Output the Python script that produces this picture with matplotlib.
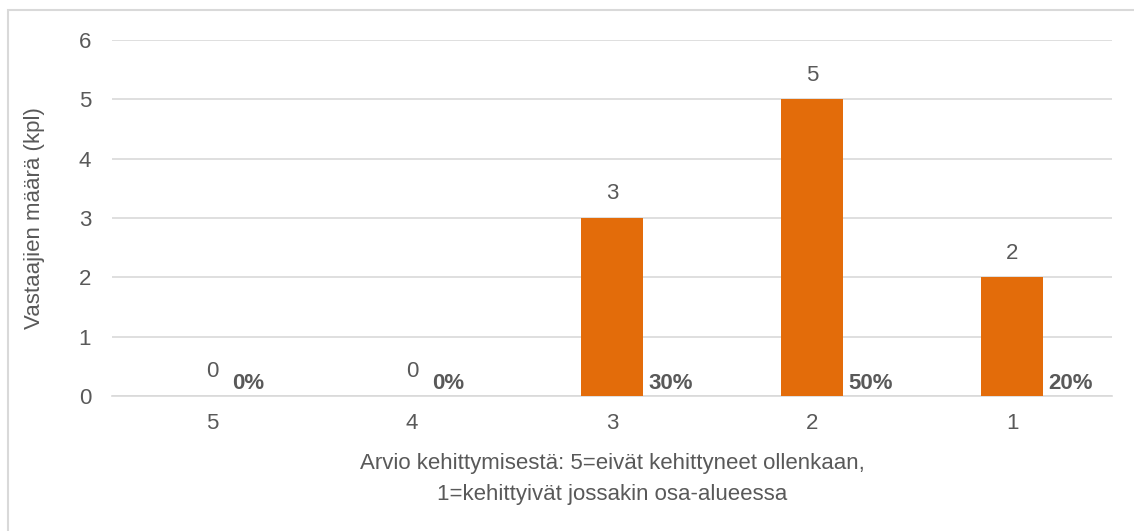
import matplotlib.pyplot as plt
import matplotlib.patches as mpatches
from matplotlib import font_manager

# data
categories = ['5', '4', '3', '2', '1']
counts = [0, 0, 3, 5, 2]
shares = ['0%', '0%', '30%', '50%', '20%']

# narrow font if available
names = {f.name for f in font_manager.fontManager.ttflist}
family = 'Liberation Sans Narrow' if 'Liberation Sans Narrow' in names else 'Liberation Sans'
plt.rcParams['font.family'] = [family, 'DejaVu Sans']

text_col = '#595959'
grid_col = '#d9d9d9'
bar_col = '#e36c0a'
fs = 16

W, H = 1134, 531
fig = plt.figure(figsize=(W / 100, H / 100), dpi=100)
fig.patch.set_facecolor('white')

# light frame around the chart (right and bottom edges fall outside)
fig.patches.append(mpatches.Rectangle((8 / W, -0.05), 1.2, 1 - 10 / H + 0.05,
                                      transform=fig.transFigure, fill=False,
                                      edgecolor=grid_col, linewidth=1.5))

ax = fig.add_axes([112 / W, 1 - 396 / H, 1000 / W, 356 / H])
x = list(range(len(categories)))
ax.bar(x, counts, width=0.31, color=bar_col, zorder=3)

ax.set_xlim(-0.5, len(categories) - 0.5)
ax.set_ylim(0, 6)
ax.set_yticks(range(0, 7))
ax.set_xticks(x)
ax.set_xticklabels(categories)
ax.grid(axis='y', color=grid_col, linewidth=1.2, zorder=0)
ax.set_axisbelow(True)
for s in ['top', 'right', 'left']:
    ax.spines[s].set_visible(False)
ax.spines['bottom'].set_color(grid_col)
ax.spines['bottom'].set_linewidth(1.2)
ax.tick_params(axis='both', length=0, labelsize=fs, colors=text_col)
ax.tick_params(axis='y', pad=15)
ax.tick_params(axis='x', pad=12)

ax.set_ylabel('Vastaajien määrä (kpl)', fontsize=fs, color=text_col, labelpad=24)
ax.set_xlabel('Arvio kehittymisestä: 5=eivät kehittyneet ollenkaan,\n1=kehittyivät jossakin osa-alueessa',
              fontsize=fs, color=text_col, labelpad=14, linespacing=1.6)

for xi, c, p in zip(x, counts, shares):
    ax.annotate(str(c), (xi, c), xytext=(0, 13.5), textcoords='offset points',
                ha='center', va='baseline', fontsize=fs, color=text_col)
    off = 0.18 if c > 0 else 0.1
    ax.annotate(p, (xi + off, 0), xytext=(0, 5), textcoords='offset points',
                ha='left', va='baseline', fontsize=fs, fontweight='bold', color=text_col)

fig.savefig('out.png', dpi=100, facecolor='white')
